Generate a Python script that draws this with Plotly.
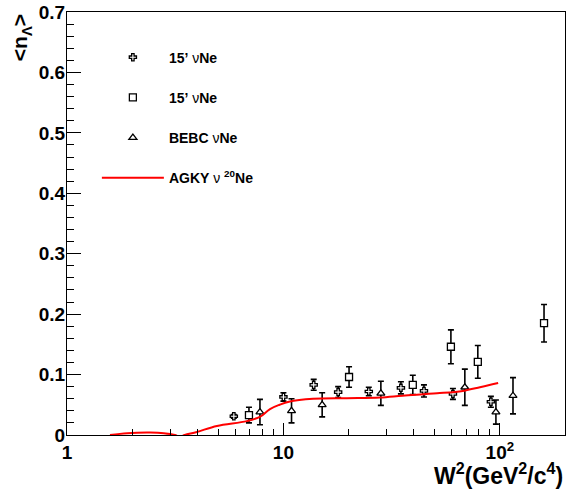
import plotly.graph_objects as go

# ---- data ----
cross_x = [5.9, 10.0, 13.8, 17.9, 24.8, 34.9, 44.6, 60.7, 90.9]
cross_y = [0.031, 0.063, 0.083, 0.071, 0.072, 0.078, 0.073, 0.068, 0.055]
cross_e = [0.003, 0.007, 0.009, 0.009, 0.007, 0.010, 0.010, 0.009, 0.009]

sq_x = [6.93, 20.1, 39.6, 59.4, 79.1, 160.0]
sq_y = [0.033, 0.096, 0.083, 0.146, 0.121, 0.185]
sq_e = [0.013, 0.017, 0.016, 0.028, 0.027, 0.031]

tri_x = [7.79, 10.9, 15.1, 28.2, 68.9, 95.9, 115.0]
tri_y = [0.038, 0.040, 0.050, 0.069, 0.079, 0.038, 0.065]
tri_e = [0.021, 0.020, 0.020, 0.020, 0.030, 0.020, 0.030]

curve_x = [1.58, 1.9, 2.42, 2.8, 3.15, 3.32, 3.5, 3.98, 4.93, 6.77, 7.78, 8.67,
           9.6, 10.6, 13.7, 19.6, 27.9, 35.5, 51.3, 67.4, 80.9, 98.2]
curve_y = [0.0, 0.003, 0.004, 0.003, 0.0, -0.003, 0.0, 0.005, 0.015, 0.023, 0.030, 0.043,
           0.050, 0.055, 0.060, 0.061, 0.062, 0.065, 0.069, 0.073, 0.079, 0.086]

x_major = [1, 10, 100]
x_major_text = ["1", "10", "10<sup>2</sup>"]
x_minor = [2, 3, 4, 5, 6, 7, 8, 9, 20, 30, 40, 50, 60, 70, 80, 90, 200]

FONT = "Liberation Sans"

fig = go.Figure()

def err_trace(x, y, e, sym, name, size):
    return go.Scatter(
        x=x, y=y, mode="markers", name=name, legendgroup=name,
        marker=dict(symbol=sym, size=size, color="white",
                    line=dict(color="black", width=1.3)),
        error_y=dict(type="data", array=e, visible=True, color="black",
                     thickness=1.6, width=3),
    )

fig.add_trace(err_trace(cross_x, cross_y, cross_e, "cross", "<b>15’</b> ν<b>Ne</b>", 6))
fig.add_trace(err_trace(sq_x, sq_y, sq_e, "square", "<b>15’</b> ν<b>Ne</b> ", 7))
fig.add_trace(err_trace(tri_x, tri_y, tri_e, "triangle-up", "<b>BEBC</b> ν<b>Ne</b>", 7))
fig.add_trace(go.Scatter(
    x=curve_x, y=curve_y, mode="lines", name="<b>AGKY</b> ν <b><sup>20</sup>Ne</b>",
    legendgroup="agky", line=dict(color="red", width=2, shape="spline"),
))

fig.update_layout(
    width=567, height=493,
    margin=dict(l=67, r=2, t=12, b=58),
    plot_bgcolor="white", paper_bgcolor="white",
    font=dict(family=FONT, color="black"),
    showlegend=True,
    legend=dict(x=0.060, y=0.930, xanchor="left", yanchor="top",
                bgcolor="rgba(0,0,0,0)", font=dict(family=FONT, size=14),
                itemwidth=62, tracegroupgap=19),
    xaxis=dict(
        type="log", range=[0, 2.301], showgrid=False, zeroline=False,
        showline=True, linecolor="black", linewidth=1, mirror=True,
        automargin=False,
        ticks="inside", ticklen=12, tickcolor="black",
        tickmode="array", tickvals=x_major, ticktext=x_major_text,
        tickfont=dict(family=FONT, size=19, weight="bold"),
        minor=dict(tickmode="array", tickvals=x_minor, ticks="inside",
                   ticklen=6, tickcolor="black", showgrid=False),
    ),
    yaxis=dict(
        range=[0, 0.7], showgrid=False, zeroline=False,
        showline=True, linecolor="black", linewidth=1, mirror=True,
        automargin=False,
        ticks="inside", ticklen=14, tickcolor="black",
        tick0=0, dtick=0.1, ticklabelstandoff=-3,
        tickfont=dict(family=FONT, size=19, weight="bold"),
        minor=dict(dtick=0.02, tick0=0, ticks="inside", ticklen=7,
                   tickcolor="black", showgrid=False),
    ),
)

fig.add_annotation(
    text="&lt;n<sub>Λ</sub>&gt;", textangle=-90,
    xref="paper", yref="paper", x=-0.093, y=1.0,
    xanchor="center", yanchor="top", showarrow=False,
    font=dict(family=FONT, size=21, weight="bold"),
)
fig.add_annotation(
    text="W<sup>2</sup>(GeV<sup>2</sup>/c<sup>4</sup>)",
    xref="paper", yref="paper", x=1.0, y=-0.052,
    xanchor="right", yanchor="top", showarrow=False,
    font=dict(family=FONT, size=23, weight="bold"),
)

fig.write_html("out.html", config={"displayModeBar": False},
               post_script="document.body.style.margin='0';")
